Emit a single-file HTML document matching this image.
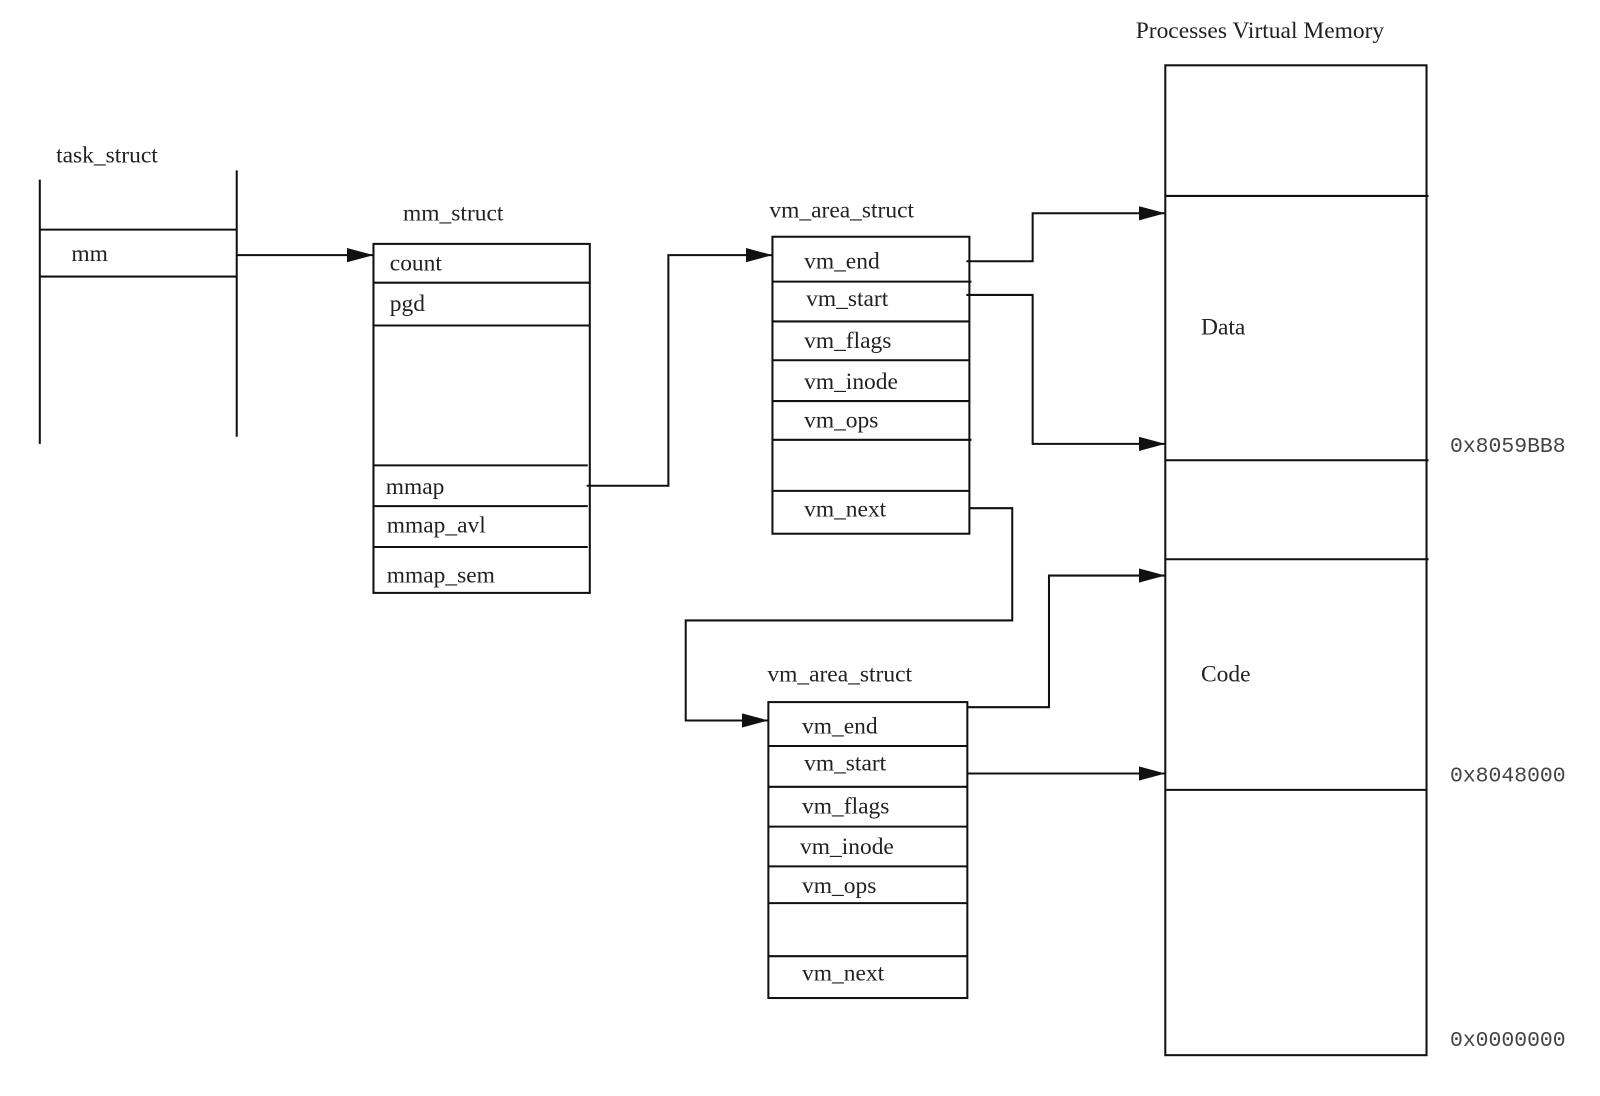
<!DOCTYPE html>
<html><head><meta charset="utf-8"><style>
html,body{margin:0;padding:0;background:#fff;}
svg{display:block;}
text{font-family:"Liberation Serif",serif;font-size:23px;fill:#222;}
.m{font-family:"Liberation Mono",monospace;font-size:21px;fill:#444;}
</style></head><body>
<svg width="1600" height="1096" viewBox="0 0 1568 1074" preserveAspectRatio="none" xmlns="http://www.w3.org/2000/svg">
<defs><marker id="a" viewBox="0 0 26 14" refX="26" refY="7" markerWidth="26" markerHeight="14" markerUnits="userSpaceOnUse" orient="auto"><path d="M0,0 L26,7 L0,14 Z" fill="#111"/></marker></defs>
<g stroke="#111" stroke-width="2" fill="none">
<!-- task_struct -->
<line x1="39" y1="176" x2="39" y2="435"/><line x1="232" y1="167" x2="232" y2="428"/>
<line x1="39" y1="225" x2="232" y2="225"/><line x1="39" y1="271" x2="232" y2="271"/>
<line x1="232" y1="250" x2="366" y2="250" marker-end="url(#a)"/>
<!-- mm_struct -->
<rect x="366" y="239" width="212" height="342"/>
<line x1="366" y1="277" x2="578" y2="277"/><line x1="366" y1="319" x2="578" y2="319"/>
<line x1="366" y1="456" x2="576" y2="456"/><line x1="366" y1="496" x2="576" y2="496"/><line x1="366" y1="536" x2="576" y2="536"/>
<polyline points="575,476 655,476 655,250 757,250" marker-end="url(#a)"/>
<!-- vm_area 1 -->
<rect x="757" y="232" width="193" height="291"/>
<line x1="757" y1="276" x2="952" y2="276"/><line x1="757" y1="315" x2="950" y2="315"/>
<line x1="757" y1="353" x2="950" y2="353"/><line x1="757" y1="393" x2="950" y2="393"/>
<line x1="757" y1="431" x2="952" y2="431"/><line x1="757" y1="481" x2="950" y2="481"/>
<polyline points="947,256 1012,256 1012,209 1142,209" marker-end="url(#a)"/>
<polyline points="947,289 1012,289 1012,435 1142,435" marker-end="url(#a)"/>
<polyline points="950,498 992,498 992,608 672,608 672,706 753,706" marker-end="url(#a)"/>
<!-- vm_area 2 -->
<rect x="753" y="688" width="195" height="290"/>
<line x1="753" y1="731" x2="948" y2="731"/><line x1="753" y1="771" x2="948" y2="771"/>
<line x1="753" y1="810" x2="948" y2="810"/><line x1="753" y1="849" x2="948" y2="849"/>
<line x1="753" y1="885" x2="948" y2="885"/><line x1="753" y1="937" x2="948" y2="937"/>
<polyline points="948,693 1028,693 1028,564 1142,564" marker-end="url(#a)"/>
<line x1="948" y1="758" x2="1142" y2="758" marker-end="url(#a)"/>
<!-- memory -->
<rect x="1142" y="64" width="256" height="970"/>
<line x1="1142" y1="192" x2="1400" y2="192"/><line x1="1142" y1="451" x2="1400" y2="451"/>
<line x1="1142" y1="548" x2="1400" y2="548"/><line x1="1142" y1="774" x2="1398" y2="774"/>
</g>
<text x="55" y="159">task_struct</text>
<text x="70" y="256">mm</text>
<text x="395" y="216">mm_struct</text>
<text x="382" y="265">count</text>
<text x="382" y="305">pgd</text>
<text x="378" y="484">mmap</text>
<text x="379" y="522">mmap_avl</text>
<text x="379" y="571">mmap_sem</text>
<text x="754" y="213">vm_area_struct</text>
<text x="788" y="263">vm_end</text>
<text x="790" y="300">vm_start</text>
<text x="788" y="341">vm_flags</text>
<text x="788" y="381">vm_inode</text>
<text x="788" y="419">vm_ops</text>
<text x="788" y="506">vm_next</text>
<text x="752" y="668">vm_area_struct</text>
<text x="786" y="719">vm_end</text>
<text x="788" y="755">vm_start</text>
<text x="786" y="797">vm_flags</text>
<text x="784" y="837">vm_inode</text>
<text x="786" y="875">vm_ops</text>
<text x="786" y="961">vm_next</text>
<text x="1113" y="37">Processes Virtual Memory</text>
<text x="1177" y="328">Data</text>
<text x="1177" y="668">Code</text>
<text class="m" x="1421" y="443">0x8059BB8</text>
<text class="m" x="1421" y="766">0x8048000</text>
<text class="m" x="1421" y="1025">0x0000000</text>
</svg>
</body></html>
